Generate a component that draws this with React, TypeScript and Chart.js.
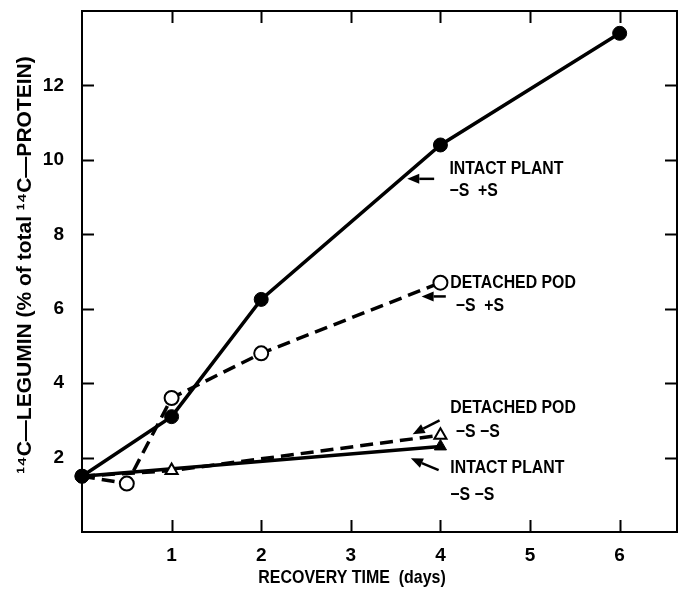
import React, { useEffect, useRef } from "react";
import { Chart, registerables } from "chart.js";

Chart.register(...registerables);

const intactPlus = [
  { x: 0, y: 1.5 }, { x: 1, y: 3.1 }, { x: 2, y: 6.25 }, { x: 4, y: 10.4 }, { x: 6, y: 13.4 },
];
const detachedPlus = [
  { x: 0, y: 1.5 }, { x: 0.5, y: 1.3 }, { x: 1, y: 3.6 }, { x: 2, y: 4.8 }, { x: 4, y: 6.7 },
];
const detachedMinus = [
  { x: 0, y: 1.5 }, { x: 1, y: 1.65 }, { x: 4, y: 2.6 },
];
const intactMinus = [
  { x: 0, y: 1.5 }, { x: 4, y: 2.3 },
];

const xTicks = [1, 2, 3, 4, 5, 6];
const yTicks = [2, 4, 6, 8, 10, 12];

// annotation labels: [x, y, text]
const labels: [number, number, string][] = [
  [4.1, 9.76, "INTACT PLANT"],
  [4.1, 9.17, "\u2212S  +S"],
  [4.11, 6.68, "DETACHED POD"],
  [4.17, 6.06, "\u2212S  +S"],
  [4.11, 3.32, "DETACHED POD"],
  [4.17, 2.68, "\u2212S \u2212S"],
  [4.11, 1.72, "INTACT PLANT"],
  [4.11, 0.99, "\u2212S \u2212S"],
];
// arrows: [x0, y0, x1, y1] (tail -> head)
const arrows: [number, number, number, number][] = [
  [3.93, 9.49, 3.63, 9.49],
  [4.06, 6.33, 3.79, 6.33],
  [3.99, 3.0, 3.69, 2.63],
  [3.98, 1.66, 3.67, 1.98],
];

const FONT = "'Liberation Sans', Arial, sans-serif";

function condensedText(ctx: CanvasRenderingContext2D, s: string, x: number, y: number, sx: number) {
  ctx.save();
  ctx.translate(x, y);
  ctx.scale(sx, 1);
  ctx.fillText(s, 0, 0);
  ctx.restore();
}

const framePlugin = {
  id: "frame",
  afterDraw(chart: any) {
    const { ctx, chartArea: a, scales } = chart;
    const xs = scales.x;
    const ys = scales.y;
    ctx.save();
    ctx.strokeStyle = "#000";
    ctx.lineWidth = 2;
    ctx.strokeRect(a.left, a.top, a.right - a.left, a.bottom - a.top);
    const tl = 12;
    ctx.beginPath();
    xTicks.forEach((t) => {
      const px = Math.round(xs.getPixelForValue(t)) + 0.5;
      ctx.moveTo(px, a.bottom);
      ctx.lineTo(px, a.bottom - tl);
      ctx.moveTo(px, a.top);
      ctx.lineTo(px, a.top + tl);
    });
    yTicks.forEach((t) => {
      const py = Math.round(ys.getPixelForValue(t)) + 0.5;
      ctx.moveTo(a.left, py);
      ctx.lineTo(a.left + tl, py);
      ctx.moveTo(a.right, py);
      ctx.lineTo(a.right - tl, py);
    });
    ctx.stroke();

    // annotations
    ctx.fillStyle = "#000";
    ctx.font = `bold 18px ${FONT}`;
    ctx.textAlign = "left";
    ctx.textBaseline = "middle";
    labels.forEach(([x, y, s]) => {
      condensedText(ctx, s, xs.getPixelForValue(x), ys.getPixelForValue(y), 0.88);
    });
    ctx.lineWidth = 2.5;
    arrows.forEach(([x0, y0, x1, y1]) => {
      const p0x = xs.getPixelForValue(x0);
      const p0y = ys.getPixelForValue(y0);
      const p1x = xs.getPixelForValue(x1);
      const p1y = ys.getPixelForValue(y1);
      const ang = Math.atan2(p1y - p0y, p1x - p0x);
      const hl = 12;
      const hw = 5;
      const bx = p1x - hl * Math.cos(ang);
      const by = p1y - hl * Math.sin(ang);
      ctx.beginPath();
      ctx.moveTo(p0x, p0y);
      ctx.lineTo(bx, by);
      ctx.stroke();
      ctx.beginPath();
      ctx.moveTo(p1x, p1y);
      ctx.lineTo(bx + hw * Math.sin(ang), by - hw * Math.cos(ang));
      ctx.lineTo(bx - hw * Math.sin(ang), by + hw * Math.cos(ang));
      ctx.closePath();
      ctx.fill();
    });

    // axis titles
    ctx.font = `bold 19px ${FONT}`;
    ctx.textAlign = "center";
    ctx.textBaseline = "middle";
    condensedText(ctx, "RECOVERY TIME  (days)", 352, 578, 0.84);
    ctx.save();
    ctx.translate(25, 265);
    ctx.rotate(-Math.PI / 2);
    ctx.font = `bold 21px ${FONT}`;
    ctx.fillText("\u00B9\u2074C\u2014LEGUMIN (% of total \u00B9\u2074C\u2014PROTEIN)", 0, 0);
    ctx.restore();
    ctx.restore();
  },
};

export default function App() {
  const ref = useRef<HTMLCanvasElement>(null);
  useEffect(() => {
    document.body.style.margin = "0";
    const ctx = ref.current!.getContext("2d")!;
    const chart = new Chart(ctx, {
      type: "scatter",
      data: {
        datasets: [
          {
            label: "Detached pod -S -S",
            data: detachedMinus,
            showLine: true,
            clip: false,
            borderColor: "#000",
            borderWidth: 3.5,
            borderDash: [13, 7],
            pointStyle: "triangle",
            pointRadius: [0, 7, 7] as any,
            pointBackgroundColor: "#fff",
            pointBorderColor: "#000",
            pointBorderWidth: 2,
          },
          {
            label: "Intact plant -S -S",
            data: intactMinus,
            showLine: true,
            clip: false,
            borderColor: "#000",
            borderWidth: 3.5,
            pointStyle: "triangle",
            pointRadius: [0, 7] as any,
            pointBackgroundColor: "#000",
            pointBorderColor: "#000",
            pointBorderWidth: 1,
          },
          {
            label: "Intact plant -S +S",
            data: intactPlus,
            showLine: true,
            clip: false,
            borderColor: "#000",
            borderWidth: 3.5,
            pointStyle: "circle",
            pointRadius: 7,
            pointBackgroundColor: "#000",
            pointBorderColor: "#000",
            pointBorderWidth: 1,
          },
          {
            label: "Detached pod -S +S",
            data: detachedPlus,
            showLine: true,
            clip: false,
            borderColor: "#000",
            borderWidth: 3.5,
            borderDash: [13, 7],
            pointStyle: "circle",
            pointRadius: [0, 7, 7, 7, 7] as any,
            pointBackgroundColor: "#fff",
            pointBorderColor: "#000",
            pointBorderWidth: 2,
          },
          {
            label: "origin",
            data: [{ x: 0, y: 1.5 }],
            showLine: false,
            clip: false,
            pointStyle: "circle",
            pointRadius: 7,
            pointBackgroundColor: "#000",
            pointBorderColor: "#000",
          },
        ],
      },
      options: {
        animation: false,
        responsive: false,
        maintainAspectRatio: false,
        layout: { padding: { top: 11, right: 5, left: 0, bottom: 0 } },
        plugins: { legend: { display: false }, tooltip: { enabled: false } },
        elements: { line: { tension: 0 } },
        scales: {
          x: {
            type: "linear",
            min: 0,
            max: 6.64,
            afterFit: (s: any) => { s.height = 63; s.paddingLeft = 0; s.paddingRight = 0; },
            afterBuildTicks: (s: any) => { s.ticks = [0, ...xTicks].map((v) => ({ value: v })); },
            grid: { display: false, drawTicks: false },
            border: { display: false },
            ticks: {
              padding: 12,
              color: "#000",
              font: { family: FONT, size: 19, weight: "bold" },
              callback: (v: any) => (v === 0 ? "" : String(v)),
            },
          },
          y: {
            type: "linear",
            min: 0,
            max: 14,
            afterFit: (s: any) => { s.width = 82; s.paddingTop = 0; s.paddingBottom = 0; },
            afterBuildTicks: (s: any) => { s.ticks = [0, ...yTicks].map((v) => ({ value: v })); },
            grid: { display: false, drawTicks: false },
            border: { display: false },
            ticks: {
              padding: 18,
              color: "#000",
              font: { family: FONT, size: 19, weight: "bold" },
              callback: (v: any) => (v === 0 ? "" : String(v)),
            },
          },
        },
      },
      plugins: [framePlugin],
    });
    return () => chart.destroy();
  }, []);
  return (
    <div style={{ width: 686, height: 595, background: "#fff" }}>
      <canvas ref={ref} width={686} height={595} />
    </div>
  );
}
